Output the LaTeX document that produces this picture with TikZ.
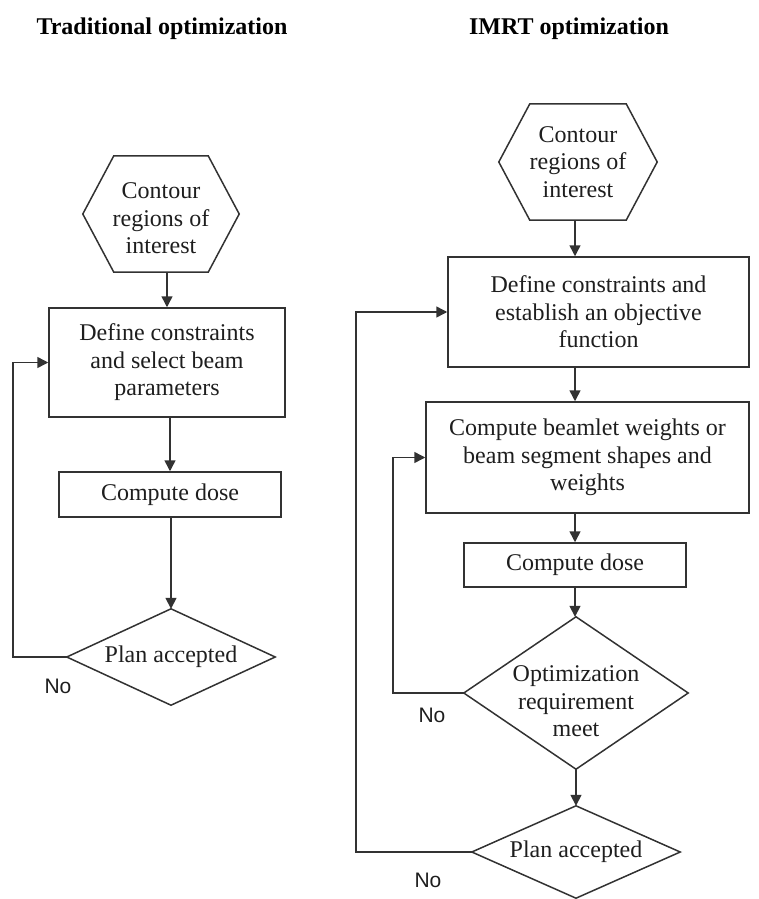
\documentclass[tikz,border=0pt]{standalone}
\usepackage{fontspec}
\setmainfont{Liberation Serif}
\newfontfamily\nofont{Liberation Sans}
\usetikzlibrary{arrows.meta,calc}
\definecolor{lc}{RGB}{50,50,50}
\definecolor{tc}{RGB}{30,30,30}
\newcommand\hexpath[1]{\draw[ln] (#1.west) -- ($(#1.north west)+(31,0)$) -- ($(#1.north east)+(-31,0)$) -- (#1.east) -- ($(#1.south east)+(-31,0)$) -- ($(#1.south west)+(31,0)$) -- cycle;}
\newcommand\diapath[1]{\draw[ln] (#1.north) -- (#1.east) -- (#1.south) -- (#1.west) -- cycle;}
\newcommand\lowertext[2]{\raisebox{-#1}[0pt][0pt]{\begin{tabular}{@{}c@{}}#2\end{tabular}}}
\begin{document}
\begin{tikzpicture}[x=1pt,y=-1pt,
  every node/.style={text=tc, font=\fontsize{24}{27.5}\selectfont, align=center, inner sep=0pt},
  ln/.style={draw=lc, line width=1.5pt, line join=miter},
  boxnode/.style={rectangle, draw=lc, line width=1.5pt},
  plainnode/.style={rectangle},
  arr/.style={draw=lc, line width=1.5pt, -{Triangle[length=11pt,width=11pt]}},
  title/.style={font=\fontsize{24}{27.5}\selectfont\bfseries, text=black},
  notext/.style={font=\nofont\fontsize{21}{24}\selectfont}
]
\useasboundingbox (0,0) rectangle (758,899);

% titles
\node[title] (t1) at (162,29) {Traditional optimization};
\node[title] (t2) at (569,29) {IMRT optimization};

% left column
\node[plainnode, minimum width=156pt, minimum height=116pt] (h1) at (161,214) {\lowertext{13pt}{Contour\\regions of\\interest}};
\hexpath{h1}
\node[boxnode, minimum width=236pt, minimum height=109pt] (b1) at (167,362.5) {Define constraints\\and select beam\\parameters};
\node[boxnode, minimum width=222pt, minimum height=45pt] (c1) at (170,494.5) {Compute dose};
\node[plainnode, minimum width=208pt, minimum height=96pt] (d1) at (171,657) {Plan accepted};
\diapath{d1}
\node[notext] (no1) at (58,686) {No};

\draw[arr] (h1.south -| b1.north) -- (b1.north);
\draw[arr] (b1.south -| c1.north) -- (c1.north);
\draw[arr] (c1.south -| d1.north) -- (d1.north);
\draw[arr] (d1.west) -- ++(-54,0) |- (b1.west);

% right column
\node[plainnode, minimum width=158pt, minimum height=116pt] (h2) at (578,162) {Contour\\regions of\\interest};
\hexpath{h2}
\node[boxnode, minimum width=301pt, minimum height=110pt] (b2) at (598.5,312) {Define constraints and\\establish an objective\\function};
\node[boxnode, minimum width=323pt, minimum height=111pt] (b3) at (587.5,457.5) {Compute beamlet weights or\\beam segment shapes and\\weights};
\node[boxnode, minimum width=222pt, minimum height=44pt] (c2) at (575,565) {Compute dose};
\node[plainnode, minimum width=224pt, minimum height=152pt] (d2) at (576,693) {\lowertext{17pt}{Optimization\\requirement\\meet}};
\diapath{d2}
\node[plainnode, minimum width=208pt, minimum height=92pt] (d3) at (576,852) {Plan accepted};
\diapath{d3}
\node[notext] (no2) at (432,715) {No};
\node[notext] (no3) at (428,880) {No};

\draw[arr] (h2.south -| c2.north) -- (c2.north |- b2.north);
\draw[arr] (c2.north |- b2.south) -- (c2.north |- b3.north);
\draw[arr] (c2.north |- b3.south) -- (c2.north);
\draw[arr] (c2.south) -- (c2.south |- d2.north);
\draw[arr] (d2.south) -- (d3.north);
\draw[arr] (d2.west) -- ++(-71,0) |- (b3.west);
\draw[arr] (d3.west) -- ++(-116,0) |- (b2.west);
\end{tikzpicture}
\end{document}
